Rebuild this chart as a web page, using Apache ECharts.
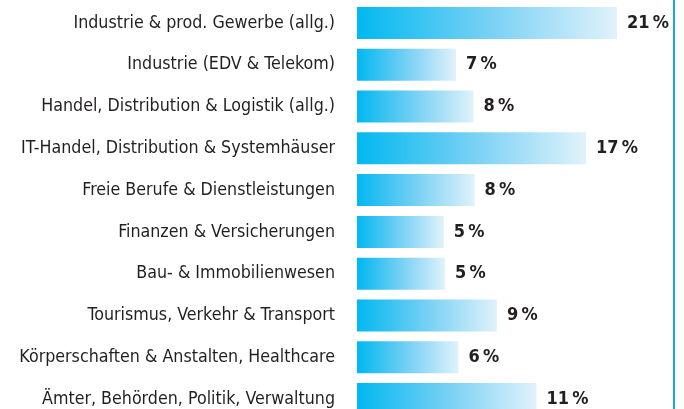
<!DOCTYPE html>
<html>
<head>
<meta charset="utf-8">
<script src="https://cdn.jsdelivr.net/npm/echarts@6/dist/echarts.min.js"></script>
<style>
  html, body { margin: 0; padding: 0; background: #fff; }
  #chart { width: 684px; height: 409px; }
</style>
</head>
<body>
<div id="chart"></div>
<script>
// Branchen (top to bottom)
const categories = [
  'Industrie & prod. Gewerbe (allg.)',
  'Industrie (EDV & Telekom)',
  'Handel, Distribution & Logistik (allg.)',
  'IT-Handel, Distribution & Systemhäuser',
  'Freie Berufe & Dienstleistungen',
  'Finanzen & Versicherungen',
  'Bau- & Immobilienwesen',
  'Tourismus, Verkehr & Transport',
  'Körperschaften & Anstalten, Healthcare',
  'Ämter, Behörden, Politik, Verwaltung'
]
// printed share labels
const shares = [21, 7, 8, 17, 8, 5, 5, 9, 6, 11]
// bar lengths as drawn in the picture (same % scale as the 21 % bar)
const barLengths = [21.0, 8.0, 9.4, 18.5, 9.5, 7.0, 7.1, 11.3, 8.2, 14.5]

const chart = echarts.init(document.getElementById('chart'))
const font = '"Liberation Sans Narrow", "DejaVu Sans Condensed", "Liberation Sans", sans-serif'

chart.setOption({
  animation: false,
  grid: {
    left: 357,
    right: 67,
    top: 2,
    bottom: -11,
    outerBoundsMode: 'none',
    containLabel: false
  },
  xAxis: {
    type: 'value',
    min: 0,
    max: 21,
    show: false
  },
  yAxis: {
    type: 'category',
    inverse: true,
    data: categories,
    axisLine: { show: false },
    axisTick: { show: false },
    axisLabel: {
      margin: 22,
      fontFamily: font,
      fontSize: 17.7,
      color: '#231f20'
    }
  },
  series: [
    {
      type: 'bar',
      data: barLengths,
      barWidth: 32,
      itemStyle: {
        color: new echarts.graphic.LinearGradient(0, 0, 1, 0, [
          { offset: 0, color: '#00b8f0' },
          { offset: 0.5, color: '#76d0f4' },
          { offset: 1, color: '#e0f2fb' }
        ])
      },
      label: {
        show: true,
        position: 'right',
        distance: 10,
        fontFamily: font,
        fontSize: 18,
        fontWeight: 'bold',
        color: '#231f20',
        formatter: function (p) {
          return shares[p.dataIndex] + '\u2009%'
        }
      }
    }
  ],
  graphic: [
    {
      type: 'rect',
      right: 9,
      top: 0,
      shape: { width: 2, height: 409 },
      style: { fill: '#1aa7e6' }
    }
  ]
})
</script>
</body>
</html>
